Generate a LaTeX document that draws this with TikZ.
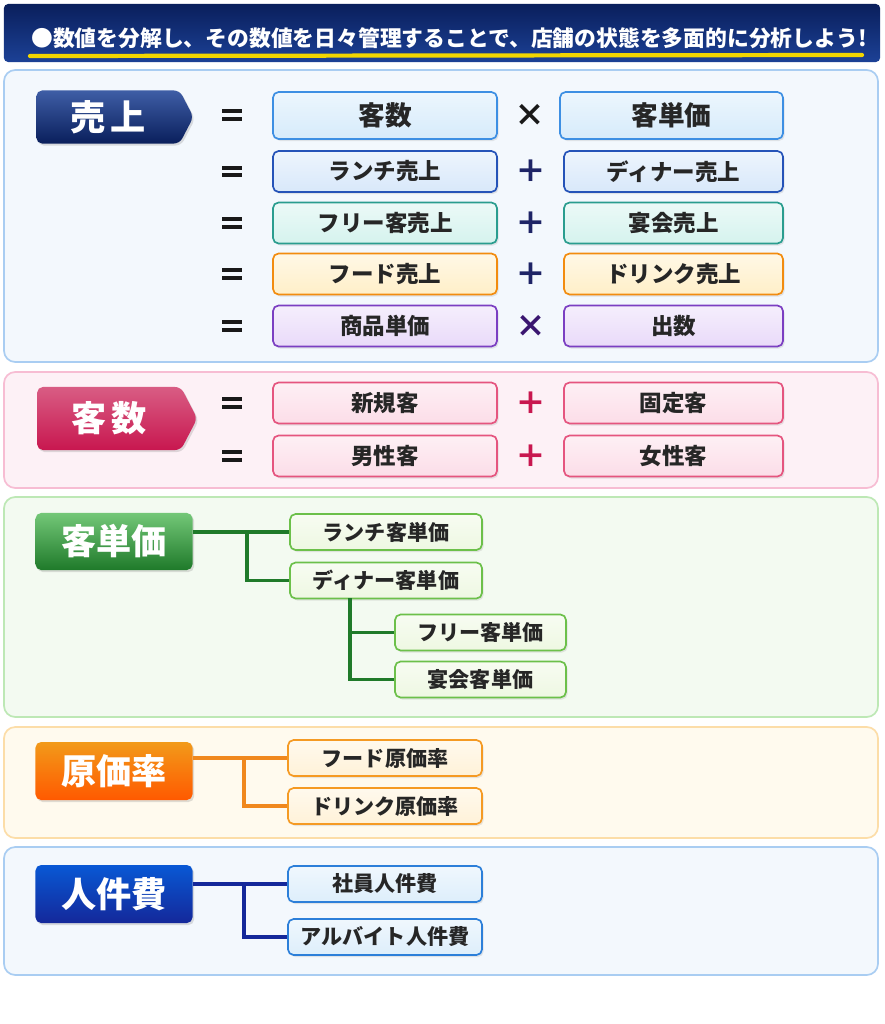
\documentclass[tikz,border=0pt]{standalone}
\usepackage{fontspec}
\setmainfont{Noto Sans CJK JP}
\usepackage{xcolor}
\usepackage{tikz}
\usetikzlibrary{positioning,shapes.symbols,shadows}

\definecolor{hdrtop}{HTML}{0A1F5C}
\definecolor{hdrbot}{HTML}{1C4196}
\definecolor{hdrline}{HTML}{F2D600}
\definecolor{panelblue}{HTML}{F3F8FD}
\definecolor{edgeblue}{HTML}{A9CDF2}
\definecolor{panelpink}{HTML}{FDF1F6}
\definecolor{edgepink}{HTML}{F7BDD3}
\definecolor{panelgreen}{HTML}{F3FAF1}
\definecolor{edgegreen}{HTML}{BDE8B5}
\definecolor{panelcream}{HTML}{FFFAEE}
\definecolor{edgecream}{HTML}{FCDDA8}
% row colours
\definecolor{skyline}{HTML}{3D8FE3}
\definecolor{skyfill}{HTML}{D6EBFB}
\definecolor{navyline}{HTML}{2553B8}
\definecolor{navyfill}{HTML}{D8E8FA}
\definecolor{tealline}{HTML}{2A9D8F}
\definecolor{tealfill}{HTML}{D5F3EE}
\definecolor{orangeline}{HTML}{F28C0F}
\definecolor{orangefill}{HTML}{FFEFC8}
\definecolor{purpleline}{HTML}{7B3FC2}
\definecolor{purplefill}{HTML}{E9DAF9}
\definecolor{pinkline}{HTML}{E5557F}
\definecolor{pinkfill}{HTML}{FCDDE8}
\definecolor{leafline}{HTML}{6CC04A}
\definecolor{leaffill}{HTML}{EEF8E2}
\definecolor{creamline}{HTML}{F59A23}
\definecolor{creamfill}{HTML}{FFF2D8}
\definecolor{staffline}{HTML}{2C7FD9}
\definecolor{stafffill}{HTML}{DDEEFB}
% operators and connectors
\definecolor{opnavy}{HTML}{1E2466}
\definecolor{oppurple}{HTML}{3A1670}
\definecolor{opcrimson}{HTML}{C8174F}
\definecolor{wiregreen}{HTML}{1F7A2A}
\definecolor{wireorange}{HTML}{F0881E}
\definecolor{wirenavy}{HTML}{14289A}

% thick equals sign
\newcommand{\eqbars}{\vbox{\hrule width 14pt height 2.8pt\vskip 2.6pt\hrule width 14pt height 2.8pt}}

\begin{document}
\begin{tikzpicture}[
x=0.025cm,y=-0.025cm,
panel/.style 2 args={
draw=#1,
fill=#2,
line width=1.2pt,
rounded corners=8pt
},
keybox/.style 2 args={
rounded corners=4pt,
minimum width=3.925cm,
minimum height=1.425cm,
top color=#1,
bottom color=#2,
text=white,
font=\bfseries\fontsize{25}{28}\selectfont,
drop shadow={opacity=0.25,shadow xshift=0.04cm,shadow yshift=-0.05cm}
},
arrowbox/.style={
shape=signal,
signal to=east,
signal pointer angle=125
},
term/.style 2 args={
draw=#1,
line width=1.2pt,
rounded corners=4pt,
top color=white!55!#2,
bottom color=#2,
minimum height=1.025cm,
text=black!85,
font=\bfseries\fontsize{16}{18}\selectfont,
drop shadow={opacity=0.18,shadow xshift=0.04cm,shadow yshift=-0.05cm}
},
leftterm/.style={minimum width=5.6cm},
rightterm/.style={minimum width=5.475cm},
leaf/.style 2 args={
term={#1}{#2},
minimum height=0.9cm,
font=\bfseries\fontsize{15}{17}\selectfont
},
eqsign/.style={text=black!90,inner sep=0pt},
opsign/.style={font=\bfseries\fontsize{22}{24}\selectfont},
wire/.style={line width=2.4pt}
]

\useasboundingbox (0,0) rectangle (884,1024);
\fill[white] (0,0) rectangle (884,1024);

%%%%%%%%%%%%%%%%%%%%%%%%%%%%%%%%%%%%%%%%%%%%%
% Title
%%%%%%%%%%%%%%%%%%%%%%%%%%%%%%%%%%%%%%%%%%%%%

\node[rounded corners=3pt,minimum width=21.9cm,minimum height=1.45cm,
top color=hdrtop,bottom color=hdrbot] (header) at (442,33) {};

\coordinate (ulstart) at (30,56);
\coordinate (ulend) at (862,55);
\draw[hdrline,line width=3pt,line cap=round] (ulstart)--(ulend);

\node[text=white,font=\bfseries\fontsize{15.5}{17}\selectfont] (title) at (449,38)
{●数値を分解し、その数値を日々管理することで、店舗の状態を多面的に分析しよう!};

%%%%%%%%%%%%%%%%%%%%%%%%%%%%%%%%%%%%%%%%%%%%%
% Panels
%%%%%%%%%%%%%%%%%%%%%%%%%%%%%%%%%%%%%%%%%%%%%

\draw[panel={edgeblue}{panelblue}] (4,70) rectangle (878,362);
\draw[panel={edgepink}{panelpink}] (4,372) rectangle (878,488);
\draw[panel={edgegreen}{panelgreen}] (4,497) rectangle (878,717);
\draw[panel={edgecream}{panelcream}] (4,727) rectangle (878,838);
\draw[panel={edgeblue}{panelblue}] (4,847) rectangle (878,975);

%%%%%%%%%%%%%%%%%%%%%%%%%%%%%%%%%%%%%%%%%%%%%
% Sales
%%%%%%%%%%%%%%%%%%%%%%%%%%%%%%%%%%%%%%%%%%%%%

\node[keybox={hdrbot!85!white}{hdrtop},arrowbox,minimum height=1.325cm] (uri) at (108,117)
{売\hspace{3pt}上};

\node[eqsign] (eqa) at (232,115) {\eqbars};
\node[term={skyline}{skyfill},leftterm,minimum height=1.175cm,
font=\bfseries\fontsize{19}{21}\selectfont] (kyakusu) at (385,115.5) {客数};
\node[opsign,text=black!90] (opa) at (530,115) {×};
\node[term={skyline}{skyfill},minimum width=5.575cm,minimum height=1.175cm,
font=\bfseries\fontsize{19}{21}\selectfont] (tanka) at (671.5,115.5) {客単価};

\node[eqsign] (eqb) at (232,171.5) {\eqbars};
\node[term={navyline}{navyfill},leftterm] (lunch) at (385,171.5) {ランチ売上};
\node[opsign,text=opnavy] (opb) at (531,171.5) {＋};
\node[term={navyline}{navyfill},rightterm] (dinner) at (673.5,171.5) {ディナー売上};

\node[eqsign] (eqc) at (232,223) {\eqbars};
\node[term={tealline}{tealfill},leftterm] (free) at (385,223) {フリー客売上};
\node[opsign,text=opnavy] (opc) at (531,223) {＋};
\node[term={tealline}{tealfill},rightterm] (party) at (673.5,223) {宴会売上};

\node[eqsign] (eqd) at (232,274) {\eqbars};
\node[term={orangeline}{orangefill},leftterm] (food) at (385,274) {フード売上};
\node[opsign,text=opnavy] (opd) at (531,274) {＋};
\node[term={orangeline}{orangefill},rightterm] (drink) at (673.5,274) {ドリンク売上};

\node[eqsign] (eqe) at (232,326) {\eqbars};
\node[term={purpleline}{purplefill},leftterm] (price) at (385,326) {商品単価};
\node[opsign,text=oppurple] (ope) at (531,326) {×};
\node[term={purpleline}{purplefill},rightterm] (count) at (673.5,326) {出数};

%%%%%%%%%%%%%%%%%%%%%%%%%%%%%%%%%%%%%%%%%%%%%
% Customers
%%%%%%%%%%%%%%%%%%%%%%%%%%%%%%%%%%%%%%%%%%%%%

\node[keybox={opcrimson!70!white}{opcrimson},arrowbox,minimum width=4cm,minimum height=1.575cm] (kyaku) at (109,418.5)
{客\hspace{3pt}数};

\node[eqsign] (eqf) at (232,403) {\eqbars};
\node[term={pinkline}{pinkfill},leftterm] (newc) at (385,403) {新規客};
\node[opsign,text=opcrimson] (opf) at (531,403) {＋};
\node[term={pinkline}{pinkfill},rightterm] (regular) at (673.5,403) {固定客};

\node[eqsign] (eqg) at (232,456) {\eqbars};
\node[term={pinkline}{pinkfill},leftterm] (male) at (385,456) {男性客};
\node[opsign,text=opcrimson] (opg) at (531,456) {＋};
\node[term={pinkline}{pinkfill},rightterm] (female) at (673.5,456) {女性客};

%%%%%%%%%%%%%%%%%%%%%%%%%%%%%%%%%%%%%%%%%%%%%
% Unit price tree
%%%%%%%%%%%%%%%%%%%%%%%%%%%%%%%%%%%%%%%%%%%%%

\node[keybox={wiregreen!70!green!60!white}{wiregreen},minimum height=1.425cm] (unit) at (114,541.5)
{客単価};

\node[leaf={leafline}{leaffill},minimum width=4.8cm] (lunchunit) at (386,532) {ランチ客単価};
\node[leaf={leafline}{leaffill},minimum width=4.8cm] (dinnerunit) at (386,580.5) {ディナー客単価};
\node[leaf={leafline}{leaffill},minimum width=4.275cm] (freeunit) at (480.5,632.5) {フリー客単価};
\node[leaf={leafline}{leaffill},minimum width=4.275cm] (partyunit) at (480.5,679.5) {宴会客単価};

\coordinate (unitfork) at (247,532);
\coordinate (dinnerfork) at (350,598);

\draw[wire,wiregreen] (unit.east |- lunchunit)--(lunchunit.west);
\draw[wire,wiregreen] (unitfork)|-(dinnerunit.west);
\draw[wire,wiregreen] (dinnerfork)|-(freeunit.west);
\draw[wire,wiregreen] (dinnerfork)|-(partyunit.west);

%%%%%%%%%%%%%%%%%%%%%%%%%%%%%%%%%%%%%%%%%%%%%
% Cost rate tree
%%%%%%%%%%%%%%%%%%%%%%%%%%%%%%%%%%%%%%%%%%%%%

\node[keybox={wireorange!85!yellow}{orange!70!red},minimum height=1.45cm] (cost) at (114,771)
{原価率};

\node[leaf={creamline}{creamfill},minimum width=4.85cm] (foodcost) at (385,758) {フード原価率};
\node[leaf={creamline}{creamfill},minimum width=4.85cm] (drinkcost) at (385,806) {ドリンク原価率};

\coordinate (costfork) at (244,758);

\draw[wire,wireorange] (cost.east |- foodcost)--(foodcost.west);
\draw[wire,wireorange] (costfork)|-(drinkcost.west);

%%%%%%%%%%%%%%%%%%%%%%%%%%%%%%%%%%%%%%%%%%%%%
% Labour cost tree
%%%%%%%%%%%%%%%%%%%%%%%%%%%%%%%%%%%%%%%%%%%%%

\node[keybox={wirenavy!60!cyan!70!blue}{wirenavy},minimum height=1.45cm] (labour) at (114,894)
{人件費};

\node[leaf={staffline}{stafffill},minimum width=4.85cm] (staff) at (385,884) {社員人件費};
\node[leaf={staffline}{stafffill},minimum width=4.85cm] (parttime) at (385,937) {アルバイト人件費};

\coordinate (labourfork) at (244,884);

\draw[wire,wirenavy] (labour.east |- staff)--(staff.west);
\draw[wire,wirenavy] (labourfork)|-(parttime.west);

\end{tikzpicture}
\end{document}
